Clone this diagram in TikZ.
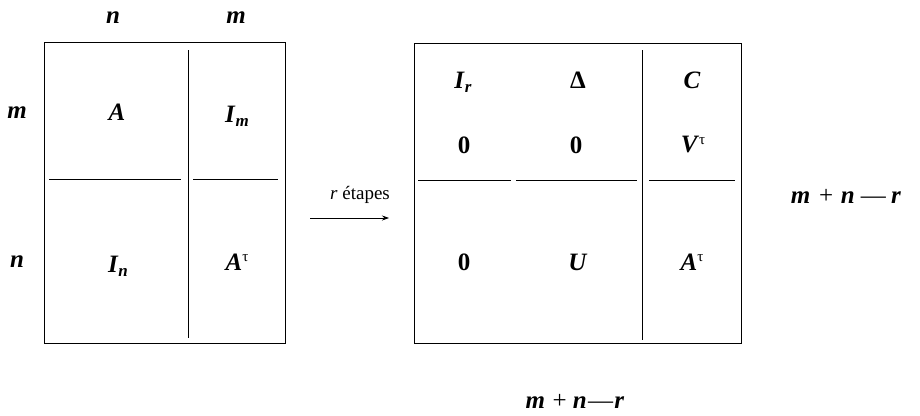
\documentclass[tikz,border=0pt]{standalone}
\usepackage{fontspec}
\setmainfont{Liberation Serif}
\usetikzlibrary{arrows.meta}
\newcommand{\bi}[1]{\textbf{\textit{#1}}}
\newcommand{\sbi}[1]{\raisebox{-0.35ex}{\fontsize{17}{17}\selectfont\bi{#1}}}
\newcommand{\suptau}{\raisebox{0.75ex}{\fontsize{15}{15}\selectfont τ}}
\begin{document}
\begin{tikzpicture}[x=1pt,y=-1pt,
  cell/.style={font=\fontsize{25}{27}\selectfont, inner sep=0pt},
  lbl/.style={font=\fontsize{25}{27}\selectfont, inner sep=0pt},
  frame/.style={line width=0.9pt},
  rule/.style={line width=0.8pt}]
\useasboundingbox (0,0) rectangle (920,415);
% left matrix
\draw[frame] (44,42) rectangle (285,343);
\draw[rule] (188,50) -- (188,338);
\draw[rule] (49,179) -- (181,179);
\draw[rule] (193,179) -- (278,179);
\node[lbl] (ln) at (113,18) {\bi{n}};
\node[lbl] (lm) at (236,18) {\bi{m}};
\node[lbl] (lrm) at (17,113) {\bi{m}};
\node[lbl] (lrn) at (17,262) {\bi{n}};
\node[cell] (a) at (117,112) {\bi{A}};
\node[cell] (im) at (237,116) {\bi{I}\sbi{m}};
\node[cell] (in) at (118,266) {\bi{I}\sbi{n}};
\node[cell] (at) at (237,262) {\bi{A}\suptau};
% arrow
\node[font=\fontsize{19}{21}\selectfont, inner sep=0pt] (step) at (360,195) {\textit{r} étapes};
\coordinate (as) at (310,218);
\coordinate (ae) at (389,218);
\draw[line width=0.7pt,-{Stealth[length=7pt,width=5pt]}] (as) -- (ae);
% right matrix
\draw[frame] (414,43) rectangle (741,343);
\draw[rule] (642,50) -- (642,340);
\draw[rule] (418,180) -- (511,180);
\draw[rule] (516,180) -- (637,180);
\draw[rule] (649,180) -- (735,180);
\node[cell] (ir) at (463,82) {\bi{I}\sbi{r}};
\node[cell] (dl) at (578,80) {\textbf{Δ}};
\node[cell] (c) at (692,80) {\bi{C}};
\node[cell] (z1) at (464,145) {\textbf{0}};
\node[cell] (z2) at (576,145) {\textbf{0}};
\node[cell] (vt) at (693,145) {\bi{V}\suptau};
\node[cell] (z3) at (464,262) {\textbf{0}};
\node[cell] (u) at (578,262) {\bi{U}};
\node[cell] (at2) at (692,262) {\bi{A}\suptau};
\node[lbl] (rl) at (846,196) {\bi{m}\hspace{0.35em}+\hspace{0.3em}\bi{n}\hspace{0.25em}—\hspace{0.2em}\bi{r}};
\node[lbl] (bl) at (575,401) {\bi{m}\hspace{0.3em}+\hspace{0.25em}\bi{n}\hspace{0.05em}—\hspace{0.05em}\bi{r}};
\end{tikzpicture}
\end{document}
